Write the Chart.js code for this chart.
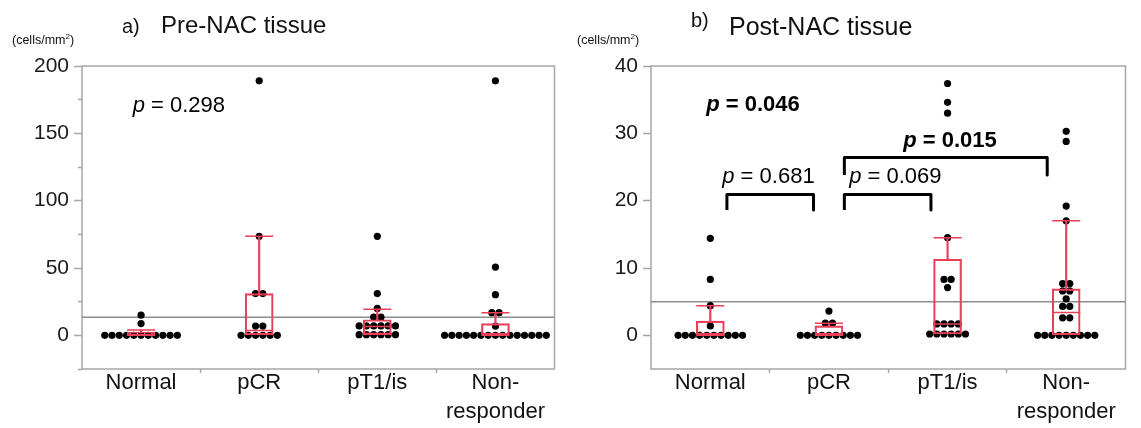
<!DOCTYPE html>
<html>
<head>
<meta charset="utf-8">
<script src="https://cdn.jsdelivr.net/npm/chart.js@4.4.1/dist/chart.umd.min.js"></script>
<style>
  html, body { margin: 0; padding: 0; background: #fff; }
  body { width: 1141px; height: 428px; overflow: hidden; position: relative;
         font-family: 'Liberation Sans', Arial, sans-serif; }
  canvas { position: absolute; top: 0; }
  .t { position: absolute; white-space: nowrap; color: #111; line-height: 1; }
  .t sup { font-size: 0.65em; line-height: 0; }
</style>
</head>
<body>
<canvas id="c1" width="570" height="428" style="left:0px"></canvas>
<canvas id="c2" width="571" height="428" style="left:570px"></canvas>

<div class="t" style="left:122px; top:16px; font-size:20px;">a)</div>
<div class="t" style="left:161px; top:13px; font-size:24px;">Pre-NAC tissue</div>
<div class="t" style="left:12px; top:34px; font-size:12.5px;">(cells/mm<sup>2</sup>)</div>

<div class="t" style="left:691px; top:10px; font-size:20px;">b)</div>
<div class="t" style="left:729px; top:14px; font-size:25px;">Post-NAC tissue</div>
<div class="t" style="left:577px; top:34px; font-size:12.5px;">(cells/mm<sup>2</sup>)</div>

<script>
// ---------------- DATA ----------------
const categories = ['Normal', 'pCR', 'pT1/is', ['Non-', 'responder']];

// a) Pre-NAC tissue (cells/mm2), individual points
const preNormal   = [0, 0, 0, 0, 0, 0, 0, 0, 0, 0, 0, 8.7, 15];
const prePCR      = [0, 0, 0, 0, 0, 0, 6.9, 6.9, 31, 31, 73.5, 189];
const preT1is     = [0.5, 0.5, 0.5, 0.5, 0.5, 0.5, 7, 7, 7, 7, 7, 7, 13.5, 13.5, 20, 31, 73.5];
const preNonResp  = [0, 0, 0, 0, 0, 0, 0, 0, 0, 0, 0, 0, 0, 0, 0, 6.9, 16.8, 16.8, 30.2, 50.7, 189];
// box plot statistics
const preQ1       = [0, 0, 0.5, 0];
const preMedian   = [0, 3.5, 6.5, 0];
const preQ3       = [2.5, 31, 11.6, 8.7];
const preWhisker  = [4, 73.5, 19.3, 16.8];
const preMean     = 13.4;
const preTicks    = [-25, 0, 25, 50, 75, 100, 125, 150, 175, 200];

// b) Post-NAC tissue (cells/mm2)
const postNormal  = [0, 0, 0, 0, 0, 0, 0, 0, 0, 0, 1.4, 4.4, 8.3, 14.4];
const postPCR     = [0, 0, 0, 0, 0, 0, 0, 0, 0, 1.8, 1.8, 3.6];
const postT1is    = [0.2, 0.2, 0.2, 0.2, 0.2, 0.2, 1.7, 1.7, 1.7, 1.7, 7.1, 8.3, 8.3, 14.5, 33.0, 34.6, 37.4];
const postNonResp = [0, 0, 0, 0, 0, 0, 0, 0, 0, 2.6, 2.6, 4.3, 4.3, 5.4, 6.6, 6.6, 7.7, 7.7, 17.0, 19.2, 28.8, 30.3];
const postQ1      = [0, 0, 0.2, 0];
const postMedian  = [0, 0, 1.7, 3.4];
const postQ3      = [2.1, 1.4, 11.3, 6.9];
const postWhisker = [4.4, 1.8, 14.5, 17.0];
const postMean    = 5.0;
const postTicks   = [0, 10, 20, 30, 40];

// p-value annotations (category units, data units)
const prePLabels  = [{ text: '0.298', x: 0.32, y: 170.7, bold: false }];
const postPLabels = [
  { text: '0.046', x: 0.36, y: 34.2, bold: true },
  { text: '0.015', x: 2.02, y: 28.8, bold: true },
  { text: '0.681', x: 0.49, y: 23.5, bold: false },
  { text: '0.069', x: 1.56, y: 23.5, bold: false }
];
// brackets: [fromCat, toCat, topValue, legBottomValue]
const postBrackets = [
  [0.14, 0.87, 20.9, 18.6],
  [1.13, 1.86, 20.9, 18.6],
  [1.13, 2.84, 26.4, 23.8]
];

// ---------------- RENDER ----------------
const FONT = "'Liberation Sans', Arial, sans-serif";
Chart.defaults.font.family = FONT;
const RED = '#ea3f58';
const GRAY = '#a6a6a6';

function swarm(groups, step) {
  const pts = [];
  groups.forEach((vals, gi) => {
    const counts = new Map();
    vals.forEach(v => counts.set(v, (counts.get(v) || 0) + 1));
    counts.forEach((n, v) => {
      for (let k = 0; k < n; k++) pts.push({ x: gi + (k - (n - 1) / 2) * step, y: v });
    });
  });
  return pts;
}

const framePlugin = {
  id: 'frame',
  beforeDatasetsDraw(chart) {
    const { ctx, chartArea: a } = chart;
    ctx.save();
    ctx.strokeStyle = GRAY;
    ctx.lineWidth = 1.5;
    ctx.strokeRect(a.left, a.top, a.right - a.left, a.bottom - a.top);
    ctx.restore();
  }
};

function pPlugin(labels) {
  return {
    id: 'pvals',
    afterDatasetsDraw(chart) {
      const { ctx, scales: { x, y } } = chart;
      labels.forEach(l => {
        const w = l.bold ? 'bold ' : '';
        const f1 = 'italic ' + w + '22px ' + FONT;
        const f2 = w + '22px ' + FONT;
        ctx.save();
        ctx.fillStyle = '#000';
        ctx.textBaseline = 'middle';
        ctx.textAlign = 'left';
        ctx.font = f1;
        const pw = ctx.measureText('p').width;
        const rest = ' = ' + l.text;
        ctx.font = f2;
        const rw = ctx.measureText(rest).width;
        const cx = x.getPixelForValue(l.x), cy = y.getPixelForValue(l.y);
        const sx = cx - (pw + rw) / 2;
        ctx.font = f1;
        ctx.fillText('p', sx, cy);
        ctx.font = f2;
        ctx.fillText(rest, sx + pw, cy);
        ctx.restore();
      });
    }
  };
}

function makeChart(id, opt) {
  const datasets = [];
  // boxes
  datasets.push({
    type: 'bar', grouped: false, order: 0,
    data: opt.q1.map((q, i) => ({ x: i, y: [q, opt.q3[i]] })),
    backgroundColor: 'rgba(0,0,0,0)', borderColor: RED, borderWidth: 1.5,
    borderSkipped: false, barThickness: 28
  });
  // whiskers
  datasets.push({
    type: 'bar', grouped: false, order: 0,
    data: opt.q3.map((q, i) => ({ x: i, y: [q, opt.whisker[i]] })),
    backgroundColor: RED, borderWidth: 0, barThickness: 1.5
  });
  // whisker caps
  datasets.push({
    type: 'scatter', order: 0,
    data: opt.whisker.map((w, i) => ({ x: i, y: w })),
    pointStyle: 'line', pointRadius: 14, borderColor: RED, borderWidth: 1.5
  });
  // medians
  datasets.push({
    type: 'scatter', order: 0,
    data: opt.median.map((m, i) => ({ x: i, y: m })),
    pointStyle: 'line', pointRadius: 14, borderColor: RED, borderWidth: 1.5
  });
  // points
  datasets.push({
    type: 'scatter', order: 1,
    data: swarm(opt.groups, opt.step),
    pointRadius: 3.6, backgroundColor: '#000', borderWidth: 0
  });
  // overall mean line
  datasets.push({
    type: 'line', order: 2,
    data: [{ x: -0.5, y: opt.mean }, { x: 3.5, y: opt.mean }],
    borderColor: '#8c8c8c', borderWidth: 1.5, pointRadius: 0, fill: false
  });
  // brackets
  (opt.brackets || []).forEach(b => {
    datasets.push({
      type: 'line', order: 0,
      data: [{ x: b[0], y: b[3] }, { x: b[0], y: b[2] }, { x: b[1], y: b[2] }, { x: b[1], y: b[3] }],
      borderColor: '#000', borderWidth: 3, pointRadius: 0, fill: false, tension: 0,
      borderJoinStyle: 'round', borderCapStyle: 'butt', clip: false
    });
  });

  return new Chart(document.getElementById(id), {
    type: 'bar',
    data: { datasets },
    options: {
      responsive: false, animation: false,
      layout: { padding: { top: 66, right: opt.padRight, bottom: 0, left: 0 } },
      plugins: { legend: { display: false }, tooltip: { enabled: false } },
      scales: {
        x: {
          type: 'linear', min: -0.5, max: 3.5, offset: false,
          afterBuildTicks: s => { s.ticks = [0, 0.5, 1, 1.5, 2, 2.5, 3].map(v => ({ value: v })); },
          afterFit: s => { s.height = 59; },
          ticks: {
            autoSkip: false, maxRotation: 0, minRotation: 0, padding: -4,
            callback: v => Number.isInteger(v) ? categories[v] : '',
            font: { size: 22, lineHeight: 1.3 }, color: '#111'
          },
          grid: {
            offset: false, drawOnChartArea: false, drawTicks: true, tickLength: 4, tickWidth: 1.5,
            tickColor: c => (c.tick && !Number.isInteger(c.tick.value)) ? GRAY : 'rgba(0,0,0,0)'
          },
          border: { display: false }
        },
        y: {
          type: 'linear', min: opt.ymin, max: opt.ymax,
          afterBuildTicks: s => { s.ticks = opt.ticks.map(v => ({ value: v })); },
          afterFit: s => { s.width = opt.yWidth; },
          ticks: {
            autoSkip: false, padding: 5,
            callback: v => (v >= 0 && v % opt.labelStep === 0) ? String(v) : '',
            font: { size: 21 }, color: '#1a1a1a'
          },
          grid: {
            drawOnChartArea: false, drawTicks: true, tickLength: 8, tickWidth: 1.5, tickColor: GRAY,
            tickBorderDash: c => (c.tick && c.tick.value % opt.labelStep !== 0) ? [4, 4] : [],
            tickBorderDashOffset: c => (c.tick && c.tick.value % opt.labelStep !== 0) ? 4 : 0
          },
          border: { display: false }
        }
      }
    },
    plugins: [framePlugin, pPlugin(opt.pLabels)]
  });
}

makeChart('c1', {
  groups: [preNormal, prePCR, preT1is, preNonResp], step: 0.0615,
  q1: preQ1, median: preMedian, q3: preQ3, whisker: preWhisker, mean: preMean,
  ymin: -25, ymax: 200, ticks: preTicks, labelStep: 50,
  yWidth: 82, padRight: 13, pLabels: prePLabels, brackets: []
});
makeChart('c2', {
  groups: [postNormal, postPCR, postT1is, postNonResp], step: 0.0603,
  q1: postQ1, median: postMedian, q3: postQ3, whisker: postWhisker, mean: postMean,
  ymin: -5, ymax: 40, ticks: postTicks, labelStep: 10,
  yWidth: 81, padRight: 6, pLabels: postPLabels, brackets: postBrackets
});
</script>
</body>
</html>
